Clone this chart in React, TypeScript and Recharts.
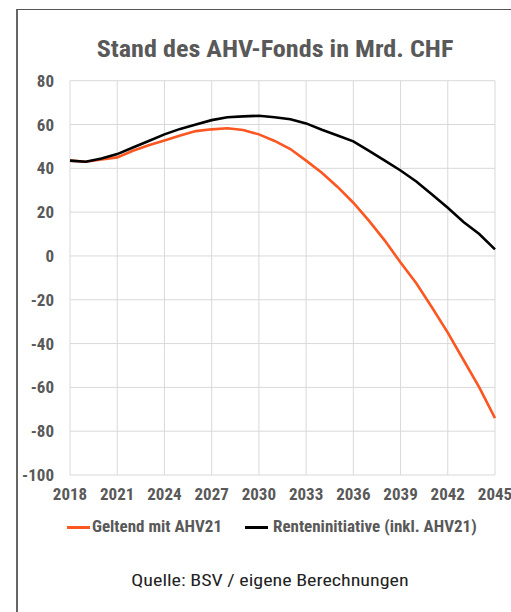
import React from "react";
import { CartesianGrid, Legend, Line, LineChart, XAxis, YAxis } from "recharts";

const years = [
  2018, 2019, 2020, 2021, 2022, 2023, 2024, 2025, 2026, 2027, 2028, 2029, 2030, 2031,
  2032, 2033, 2034, 2035, 2036, 2037, 2038, 2039, 2040, 2041, 2042, 2043, 2044, 2045,
];
const geltend = [
  43.5, 43, 44, 45, 48, 50.5, 52.7, 55, 57, 57.8, 58.3, 57.5, 55.5, 52.5,
  48.8, 43.5, 38, 31.5, 24.3, 16, 7, -3, -12.5, -23.5, -35, -47.5, -60, -74,
];
const renteninitiative = [
  43.5, 43, 44.5, 46.5, 49.5, 52.5, 55.5, 58, 60, 62, 63.3, 63.7, 64, 63.3,
  62.4, 60.5, 57.6, 55, 52.3, 48, 43.5, 39, 34, 28, 22, 15.5, 10, 3,
];
const xTicks = [2018, 2021, 2024, 2027, 2030, 2033, 2036, 2039, 2042, 2045];
const yTicks = [-100, -80, -60, -40, -20, 0, 20, 40, 60, 80];

const data = years.map((year, i) => ({
  year,
  geltend: geltend[i],
  renteninitiative: renteninitiative[i],
}));

const FONT = "'Roboto Condensed', 'Liberation Sans Narrow', 'Arial Narrow', sans-serif";
const TEXT = "#595959";

function LegendContent(props: any) {
  const payload = props.payload || [];
  const pos = [
    { line: 67, text: 92 },
    { line: 245, text: 273 },
  ];
  return (
    <div style={{ position: "relative", height: 24, fontFamily: FONT, fontWeight: "bold", fontSize: 17, color: TEXT }}>
      {payload.map((p: any, i: number) => (
        <React.Fragment key={p.value}>
          <div
            style={{
              position: "absolute",
              left: pos[i].line,
              top: 11,
              width: 23,
              height: 3,
              background: p.color,
            }}
          />
          <div style={{ position: "absolute", left: pos[i].text, top: 1, whiteSpace: "nowrap" }}>{p.value}</div>
        </React.Fragment>
      ))}
    </div>
  );
}

export default function App() {
  return (
    <div style={{ position: "absolute", left: 0, top: 0, width: 511, height: 612, overflow: "hidden", background: "#fff" }}>
      <div
        style={{
          position: "absolute",
          left: 16,
          top: 9,
          width: 600,
          height: 700,
          borderLeft: "2px solid #666",
          borderTop: "1px solid #555",
        }}
      />
      <div
        style={{
          position: "absolute",
          left: 0,
          width: 550,
          top: 34,
          textAlign: "center",
          fontFamily: FONT,
          fontWeight: "bold",
          fontSize: 24,
          color: TEXT,
          lineHeight: "30px",
          transform: "scaleX(1.09)",
        }}
      >
        Stand des AHV-Fonds in Mrd. CHF
      </div>
      <div style={{ position: "absolute", left: 0, top: 0 }}>
        <LineChart width={511} height={612} data={data} margin={{ top: 80.7, right: 16, left: 20, bottom: 83 }}>
          <CartesianGrid stroke="#d9d9d9" strokeWidth={1} vertical horizontal />
          <XAxis
            dataKey="year"
            type="number"
            domain={[2018, 2045]}
            ticks={xTicks}
            height={30}
            axisLine={false}
            tickLine={false}
            tickSize={0}
            tickMargin={13}
            interval={0}
            tick={{ fill: TEXT, fontFamily: FONT, fontWeight: "bold", fontSize: 17 }}
          />
          <YAxis
            type="number"
            domain={[-100, 80]}
            ticks={yTicks}
            width={50}
            axisLine={false}
            tickLine={false}
            tickSize={0}
            tickMargin={16}
            interval={0}
            tick={{ fill: TEXT, fontFamily: FONT, fontWeight: "bold", fontSize: 17 }}
          />
          <Legend
            content={<LegendContent />}
            wrapperStyle={{ position: "absolute", left: 0, top: 515, width: 511 }}
          />
          <Line
            type="linear"
            dataKey="geltend"
            name="Geltend mit AHV21"
            stroke="#fc5621"
            strokeWidth={2.6}
            dot={false}
            isAnimationActive={false}
          />
          <Line
            type="linear"
            dataKey="renteninitiative"
            name="Renteninitiative (inkl. AHV21)"
            stroke="#000000"
            strokeWidth={2.6}
            dot={false}
            isAnimationActive={false}
          />
        </LineChart>
      </div>
      <div
        style={{
          position: "absolute",
          left: 0,
          width: 540,
          top: 571,
          textAlign: "center",
          fontFamily: FONT,
          fontSize: 16,
          color: "#222",
          lineHeight: "20px",
          transform: "scaleX(1.25)",
        }}
      >
        Quelle: BSV / eigene Berechnungen
      </div>
    </div>
  );
}
